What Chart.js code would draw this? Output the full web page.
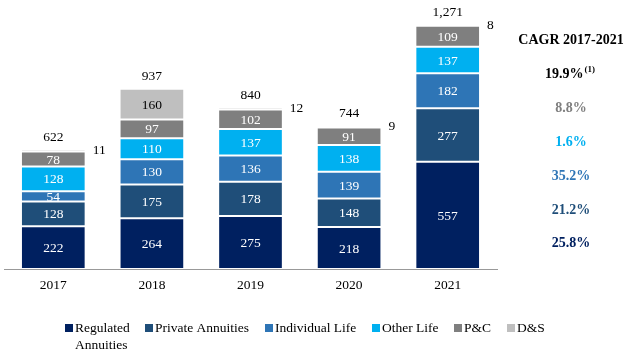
<!DOCTYPE html>
<html>
<head>
<meta charset="utf-8">
<script src="https://cdn.jsdelivr.net/npm/chart.js@4"></script>
<style>
  html, body { margin: 0; padding: 0; background: #fff; }
  #chart { display: block; }
</style>
</head>
<body>
<canvas id="chart" width="630" height="354"></canvas>
<script>
const years = ['2017', '2018', '2019', '2020', '2021']
const regulatedAnnuities = [222, 264, 275, 218, 557]
const privateAnnuities = [128, 175, 178, 148, 277]
const individualLife = [54, 130, 136, 139, 182]
const otherLife = [128, 110, 137, 138, 137]
const pAndC = [78, 97, 102, 91, 109]
const dAndS = [11, 160, 12, 9, 8]
const totals = ['622', '937', '840', '744', '1,271']

const seriesNames = ['Regulated Annuities', 'Private Annuities', 'Individual Life', 'Other Life', 'P&C', 'D&S']
const seriesColors = ['#002060', '#1F4E79', '#2E75B6', '#00B0F0', '#7F7F7F', '#BFBFBF']
const cagrTitle = 'CAGR 2017-2021'
// top to bottom, as printed next to the bars
const cagrValues = ['19.9%', '8.8%', '1.6%', '35.2%', '21.2%', '25.8%']
const cagrColors = ['#000000', '#7F7F7F', '#00B0F0', '#2E75B6', '#1F4E79', '#002060']

const serif = '"Liberation Serif", "Times New Roman", serif'

const seriesValues = [regulatedAnnuities, privateAnnuities, individualLife, otherLife, pAndC, dAndS]

const labelsPlugin = {
  id: 'barLabels',
  afterDatasetsDraw(chart) {
    const ctx = chart.ctx
    ctx.save()
    ctx.font = '13.5px ' + serif
    ctx.textBaseline = 'middle'
    chart.data.datasets.forEach((ds, i) => {
      const meta = chart.getDatasetMeta(i)
      meta.data.forEach((bar, j) => {
        const v = ds.data[j]
        if (v < 30) {
          ctx.fillStyle = '#000'
          ctx.textAlign = 'left'
          ctx.fillText(String(v), bar.x + bar.width / 2 + 7, bar.y + 1)
        } else {
          ctx.fillStyle = i === 5 ? '#000' : '#fff'
          ctx.textAlign = 'center'
          ctx.fillText(String(v), bar.x, (bar.y + bar.base) / 2 + 1)
        }
      })
    })
    // totals above each stack
    const top = chart.getDatasetMeta(chart.data.datasets.length - 1)
    ctx.fillStyle = '#000'
    ctx.textAlign = 'center'
    top.data.forEach((bar, j) => {
      ctx.fillText(totals[j], bar.x, bar.y - 12)
    })
    ctx.restore()
  }
}

const sidePlugin = {
  id: 'sidePanel',
  afterDraw(chart) {
    const ctx = chart.ctx
    ctx.save()
    ctx.textBaseline = 'middle'
    ctx.textAlign = 'center'
    ctx.font = 'bold 14px ' + serif
    ctx.fillStyle = '#000'
    ctx.fillText(cagrTitle, 571, 40)
    const ys = [74, 108, 142, 176, 210, 243]
    cagrValues.forEach((t, i) => {
      ctx.font = 'bold 14px ' + serif
      ctx.fillStyle = cagrColors[i]
      if (i === 0) {
        ctx.textAlign = 'left'
        const w = ctx.measureText(t).width
        const x0 = 545
        ctx.fillText(t, x0, ys[i])
        ctx.font = 'bold 9px ' + serif
        ctx.fillText('(1)', x0 + w + 1, ys[i] - 4)
        ctx.textAlign = 'center'
      } else {
        ctx.fillText(t, 571, ys[i])
      }
    })

    // legend
    const items = [
      { x: 65, lines: ['Regulated', 'Annuities'] },
      { x: 145, lines: ['Private Annuities'] },
      { x: 265, lines: ['Individual Life'] },
      { x: 372, lines: ['Other Life'] },
      { x: 454, lines: ['P&C'] },
      { x: 507, lines: ['D&S'] }
    ]
    ctx.font = '13.5px ' + serif
    ctx.textAlign = 'left'
    items.forEach((it, i) => {
      ctx.fillStyle = seriesColors[i]
      ctx.fillRect(it.x, 324, 8, 8)
      ctx.fillStyle = '#000'
      it.lines.forEach((line, k) => {
        ctx.fillText(line, it.x + 10, 328 + k * 17)
      })
    })
    ctx.restore()
  }
}

new Chart(document.getElementById('chart'), {
  type: 'bar',
  data: {
    labels: years,
    datasets: seriesValues.map((vals, i) => ({
      label: seriesNames[i],
      data: vals,
      backgroundColor: seriesColors[i],
      borderColor: 'rgba(255,255,255,0.35)',
      borderWidth: 1,
      borderSkipped: false,
      barPercentage: 0.82,
      categoryPercentage: 0.8
    }))
  },
  options: {
    responsive: false,
    animation: false,
    devicePixelRatio: 1,
    layout: { padding: { left: 4, right: 133, top: 10, bottom: 0 } },
    plugins: {
      legend: { display: false },
      tooltip: { enabled: false }
    },
    scales: {
      x: {
        stacked: true,
        grid: { display: false, drawTicks: false },
        border: { display: true, color: '#999999', width: 1 },
        ticks: { color: '#000', font: { family: serif, size: 13.5 }, padding: 8 },
        afterFit(scale) { scale.height = 85 }
      },
      y: {
        stacked: true,
        display: false,
        min: 0,
        max: 1344
      }
    }
  },
  plugins: [labelsPlugin, sidePlugin]
})
</script>
</body>
</html>
